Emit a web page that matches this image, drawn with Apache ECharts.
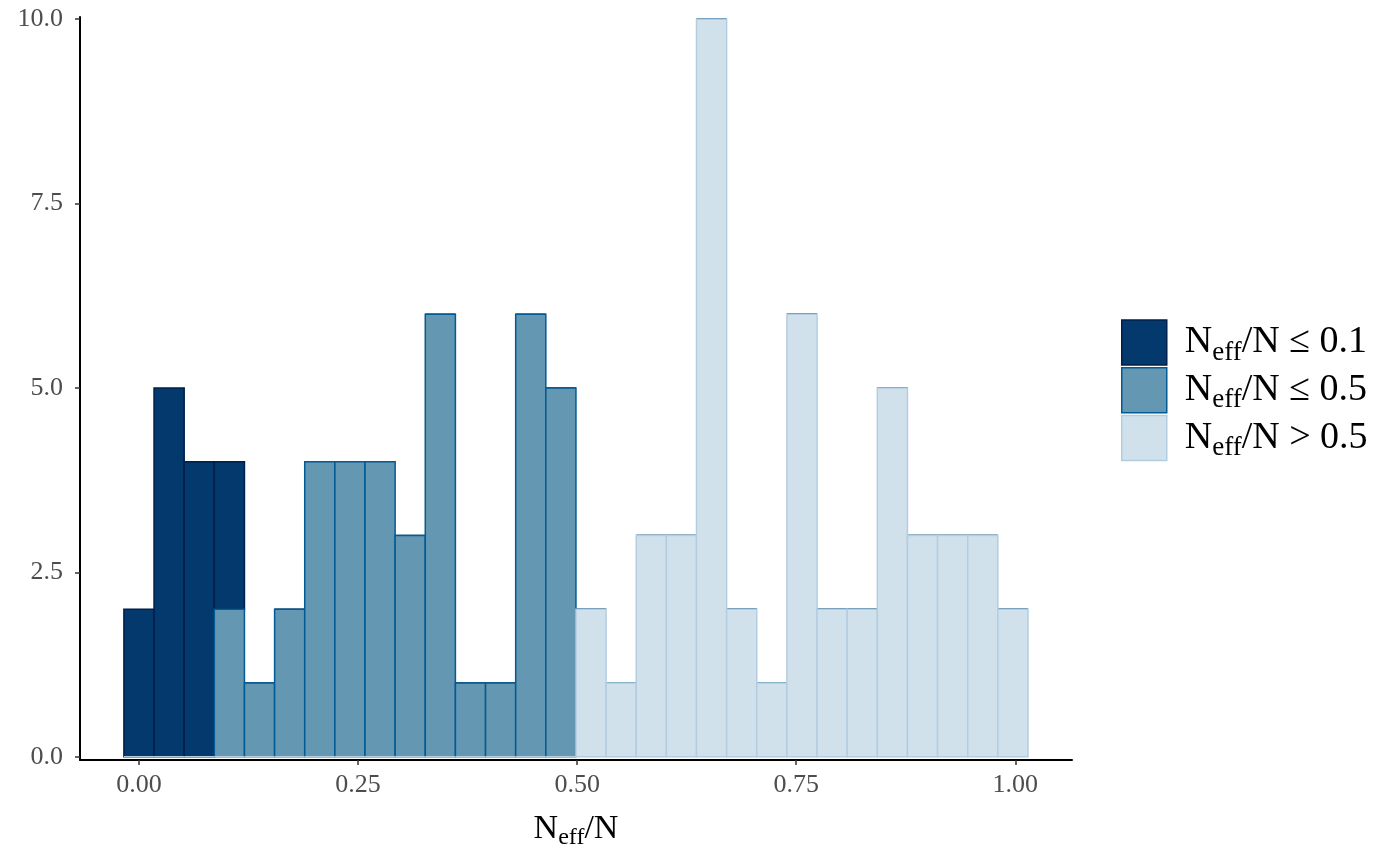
<!DOCTYPE html>
<html>
<head>
<meta charset="utf-8">
<script src="https://cdn.jsdelivr.net/npm/echarts@6/dist/echarts.min.js"></script>
<style>
  html, body { margin: 0; padding: 0; background: #fff; }
  #chart { width: 1400px; height: 866px; }
</style>
</head>
<body>
<div id="chart"></div>
<script>
// histogram bins: 30 bins, first centred on 0
const binStart = -0.0172;
const binWidth = 0.03439;

// counts per bin for each group
const countsLow  = [2, 5, 4, 2, 0, 0, 0, 0, 0, 0, 0, 0, 0, 0, 0, 0, 0, 0, 0, 0, 0, 0, 0, 0, 0, 0, 0, 0, 0, 0];
const countsMid  = [0, 0, 0, 2, 1, 2, 4, 4, 4, 3, 6, 1, 1, 6, 5, 0, 0, 0, 0, 0, 0, 0, 0, 0, 0, 0, 0, 0, 0, 0];
const countsHigh = [0, 0, 0, 0, 0, 0, 0, 0, 0, 0, 0, 0, 0, 0, 0, 2, 1, 3, 3, 10, 2, 1, 6, 2, 2, 5, 3, 3, 3, 2];

const xTicks = [0, 0.25, 0.5, 0.75, 1];
const yTicks = [0, 2.5, 5, 7.5, 10];

const groupNames = ['low', 'mid', 'high'];
const groupLabels = ['≤ 0.1', '≤ 0.5', '> 0.5'];
const fills   = ['#03396c', '#6497b1', '#d1e1ec'];
const strokes = ['#011f4b', '#005b96', '#b3cde0'];

const FONT = 'Liberation Serif';

// stacked: high at bottom, then mid, then low on top
function buildRects(idx) {
    const rows = [];
    for (let i = 0; i < countsLow.length; i++) {
        let base = 0;
        if (idx === 0) base = countsHigh[i] + countsMid[i];
        if (idx === 1) base = countsHigh[i];
        const h = [countsLow[i], countsMid[i], countsHigh[i]][idx];
        const x0 = binStart + i * binWidth;
        rows.push([x0, x0 + binWidth, base, base + h]);
    }
    return rows;
}

function makeRender(idx) {
    return function (params, api) {
        const p0 = api.coord([api.value(0), api.value(3)]);
        const p1 = api.coord([api.value(1), api.value(2)]);
        return {
            type: 'rect',
            shape: { x: p0[0], y: p0[1], width: p1[0] - p0[0], height: p1[1] - p0[1] },
            style: { fill: fills[idx], stroke: strokes[idx], lineWidth: 1.5 }
        };
    };
}

const chart = echarts.init(document.getElementById('chart'));

const series = groupNames.map((name, idx) => ({
    name: name,
    type: 'custom',
    renderItem: makeRender(idx),
    encode: { x: [0, 1], y: [2, 3] },
    data: buildRects(idx),
    itemStyle: { color: fills[idx], borderColor: strokes[idx], borderWidth: 1.5 },
    silent: true,
    z: 2 + idx
}));

const option = {
    animation: false,
    backgroundColor: '#ffffff',
    grid: { left: 80, right: 328, top: 17, bottom: 106 },
    legend: {
        orient: 'vertical',
        left: 1121,
        top: 319,
        padding: 0,
        itemWidth: 45,
        itemHeight: 45,
        itemGap: 0.7,
        icon: 'rect',
        selectedMode: false,
        data: groupNames.map((name, idx) => ({
            name: name,
            itemStyle: { color: fills[idx], borderColor: strokes[idx], borderWidth: 1.5 }
        })),
        formatter: function (name) {
            const i = groupNames.indexOf(name);
            return '{g|}{n|N}{s|eff}{n|/N ' + groupLabels[i] + '}';
        },
        textStyle: {
            fontFamily: FONT,
            color: '#000',
            lineHeight: 40,
            rich: {
                g: { width: 13, lineHeight: 40 },
                n: { fontFamily: FONT, fontSize: 38, lineHeight: 40, color: '#000' },
                s: { fontFamily: FONT, fontSize: 27, lineHeight: 20, color: '#000', padding: [20, 0, 0, 0] }
            }
        }
    },
    xAxis: {
        type: 'value',
        min: -0.0673,
        max: 1.0647,
        name: '{n|N}{s|eff}{n|/N}',
        nameLocation: 'middle',
        nameGap: 48,
        nameTextStyle: {
            rich: {
                n: { fontFamily: FONT, fontSize: 34, color: '#000' },
                s: { fontFamily: FONT, fontSize: 24, color: '#000', padding: [18, 0, 0, 0] }
            }
        },
        splitLine: { show: false },
        axisLine: { show: true, onZero: false, lineStyle: { color: '#000', width: 2 } },
        axisTick: { show: true, length: 5, customValues: xTicks, lineStyle: { color: '#333', width: 1.5 } },
        axisLabel: {
            customValues: xTicks,
            formatter: v => v.toFixed(2),
            fontFamily: FONT,
            fontSize: 26,
            color: '#4d4d4d',
            margin: 12
        }
    },
    yAxis: {
        type: 'value',
        min: -0.045,
        max: 10.03,
        splitLine: { show: false },
        axisLine: { show: true, onZero: false, lineStyle: { color: '#000', width: 2 } },
        axisTick: { show: true, length: 5, customValues: yTicks, lineStyle: { color: '#333', width: 1.5 } },
        axisLabel: {
            customValues: yTicks,
            formatter: v => v.toFixed(1),
            fontFamily: FONT,
            fontSize: 26,
            color: '#4d4d4d',
            margin: 17
        }
    },
    series: series
};

chart.setOption(option);
</script>
</body>
</html>
